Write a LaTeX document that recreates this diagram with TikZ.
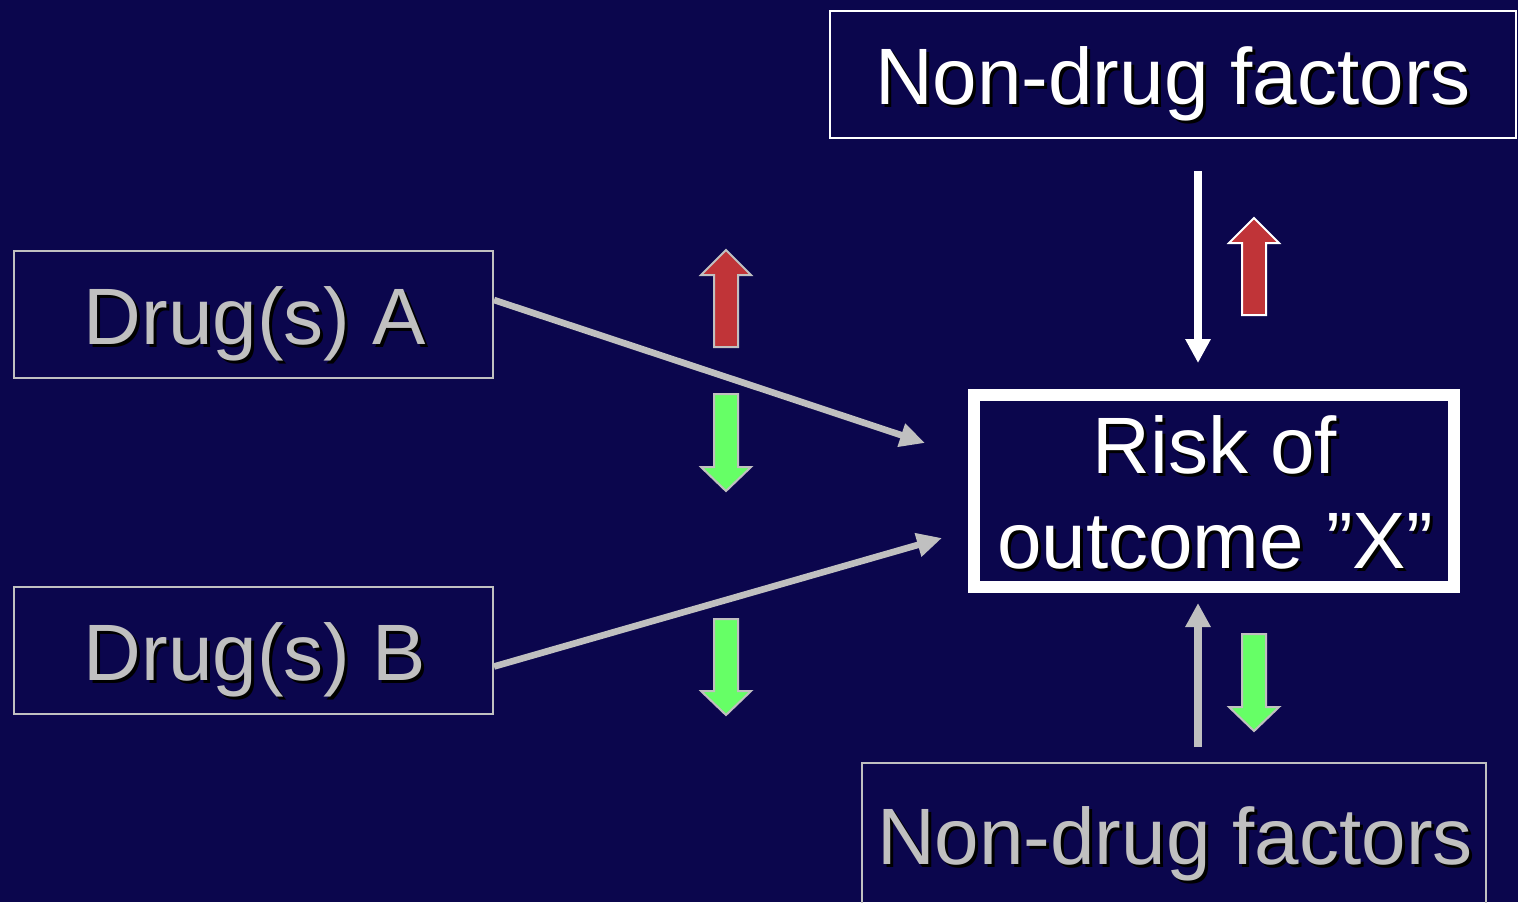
\documentclass[tikz,border=0pt]{standalone}
\usepackage{fontspec}
\setmainfont{Liberation Sans}
\usetikzlibrary{arrows.meta}
\definecolor{bg}{RGB}{11,6,77}
\definecolor{lgray}{RGB}{192,192,192}
\definecolor{bred}{RGB}{192,52,56}
\definecolor{bgreen}{RGB}{102,255,102}
\tikzset{
  txt/.style={inner sep=0pt, anchor=base, font=\fontsize{40}{46}\selectfont},
  framebox/.style={draw=#1, line width=1pt, inner sep=0pt},
  conn/.style={draw=#1, line width=3.3pt, -{Triangle[length=12.5pt,width=11.5pt]}},
  vconn/.style={draw=#1, line width=4pt, -{Triangle[length=12pt,width=12pt]}},
  blk/.style={fill=#1, line width=1pt, line join=miter},
}
% name, x, y, colour, text
\newcommand\shtext[5]{%
  \node[txt, text=black] (#1s) at ({#2+3},{#3+3}) {#5};
  \node[txt, text=#4] (#1) at (#2,#3) {#5};}
% up block arrow: centre x, tip y, head base y, bottom y
\newcommand\blockup[4]{%
  (#1-12,#4) -- (#1-12,#3) -- (#1-25,#3) -- (#1,#2) -- (#1+25,#3) -- (#1+12,#3) -- (#1+12,#4) -- cycle}
% down block arrow: centre x, top y, head base y, tip y
\newcommand\blockdown[4]{%
  (#1-12,#2) -- (#1-12,#3) -- (#1-25,#3) -- (#1,#4) -- (#1+25,#3) -- (#1+12,#3) -- (#1+12,#2) -- cycle}
\begin{document}
\begin{tikzpicture}[x=0.5pt,y=-0.5pt]
  \fill[bg] (0,0) rectangle (1518,902);
  \clip (0,0) rectangle (1518,902);

  % boxes
  \node[framebox=white, minimum width=343pt, minimum height=63.5pt] (topbox) at (1173,74.5) {};
  \node[framebox=lgray, minimum width=239.5pt, minimum height=63.5pt] (A) at (253.5,314.5) {};
  \node[framebox=lgray, minimum width=239.5pt, minimum height=63.5pt] (B) at (253.5,650.5) {};
  \node[draw=white, line width=6pt, inner sep=0pt, minimum width=240pt, minimum height=96pt] (risk) at (1214,491) {};
  \node[framebox=lgray, minimum width=312pt, minimum height=90pt] (botbox) at (1174,853) {};

  % texts
  \shtext{tTop}{1173}{104}{white}{Non-drug factors}
  \shtext{tA}{255}{344}{lgray}{Drug(s) A}
  \shtext{tB}{255}{680}{lgray}{Drug(s) B}
  \shtext{tR1}{1215}{473}{white}{Risk of}
  \shtext{tR2}{1215}{568}{white}{outcome ”X”}
  \shtext{tBot}{1175}{864}{lgray}{Non-drug factors}

  % connectors
  \coordinate (tipA) at (925,443);
  \coordinate (tipB) at (942,538);
  \coordinate (topstart) at (1198,171);
  \coordinate (toptip) at (1198,363);
  \coordinate (botstart) at (1198,747);
  \coordinate (bottip) at (1198,603);
  \draw[conn=lgray] ([yshift=7.25pt]A.east) -- (tipA);
  \draw[conn=lgray] ([yshift=-8pt]B.east) -- (tipB);
  \draw[vconn=white] (topstart) -- (toptip);
  \draw[vconn=lgray] (botstart) -- (bottip);

  % block arrows
  \filldraw[blk=bred, draw=lgray] \blockup{726}{250}{275}{347};
  \filldraw[blk=bgreen, draw=lgray] \blockdown{726}{394}{467}{491};
  \filldraw[blk=bgreen, draw=lgray] \blockdown{726}{619}{691}{715};
  \filldraw[blk=bred, draw=white] \blockup{1254}{218}{243}{315};
  \filldraw[blk=bgreen, draw=lgray] \blockdown{1254}{634}{707}{731};
\end{tikzpicture}
\end{document}
